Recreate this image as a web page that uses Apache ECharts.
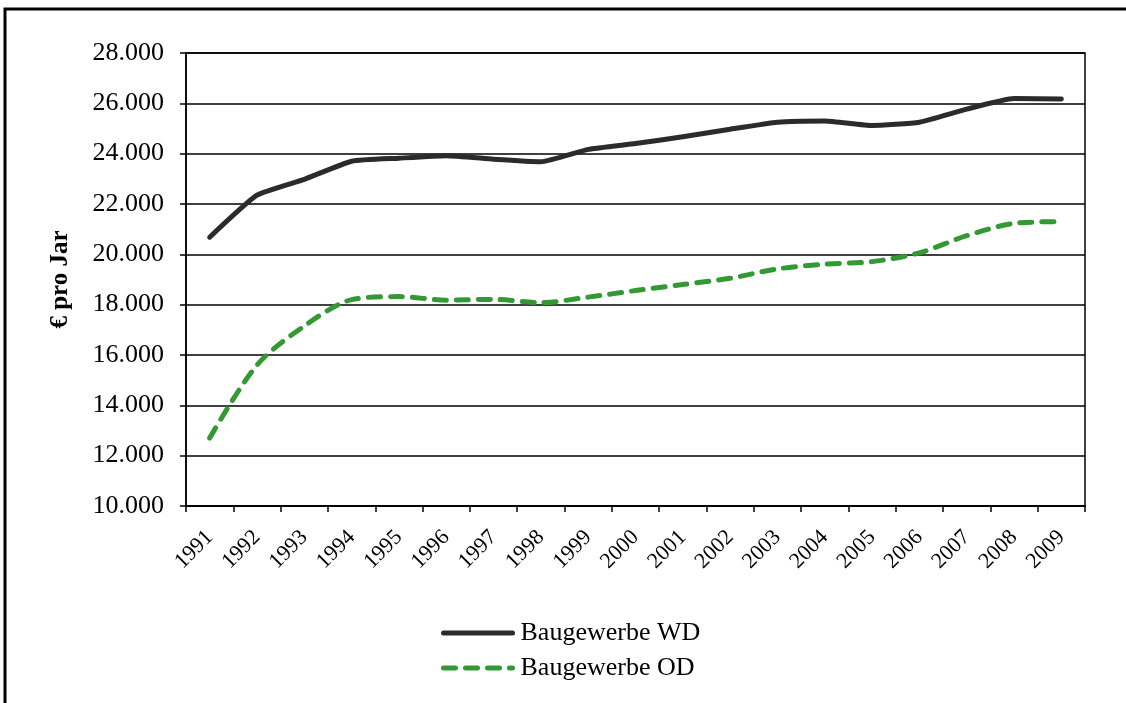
<!DOCTYPE html>
<html>
<head>
<meta charset="utf-8">
<script src="https://cdn.jsdelivr.net/npm/echarts@6/dist/echarts.min.js"></script>
<style>
  html, body { margin: 0; padding: 0; background: #fff; }
  #chart { width: 1126px; height: 703px; }
</style>
</head>
<body>
<div id="chart"></div>
<script>
// Jahre
var years = ['1991', '1992', '1993', '1994', '1995', '1996', '1997', '1998', '1999', '2000',
  '2001', '2002', '2003', '2004', '2005', '2006', '2007', '2008', '2009'];
// Baugewerbe West
var wdValues = [20680, 22350, 22980, 23700, 23820, 23920, 23780, 23680, 24170, 24400,
  24670, 24970, 25250, 25300, 25120, 25250, 25770, 26190, 26170];
// Baugewerbe Ost
var odValues = [12700, 15600, 17150, 18200, 18320, 18180, 18210, 18080, 18300, 18560,
  18800, 19050, 19420, 19610, 19710, 20060, 20740, 21230, 21300];

var serif = '"Liberation Serif", "DejaVu Serif", serif';

function fmt(v) {
  // Tausenderpunkt
  return String(v).replace(/\B(?=(\d{3})+(?!\d))/g, '.');
}

var chart = echarts.init(document.getElementById('chart'));

var option = {
  animation: false,
  backgroundColor: '#fff',
  textStyle: { fontFamily: serif, color: '#000' },
  graphic: [{
    type: 'rect',
    shape: { x: 5, y: 9, width: 1200, height: 800 },
    style: { fill: 'none', stroke: '#000', lineWidth: 3 }
  }],
  grid: {
    left: 186,
    right: 41,
    top: 53,
    bottom: 197,
    show: true,
    borderColor: '#000',
    borderWidth: 1.5
  },
  legend: {
    orient: 'vertical',
    left: 441,
    top: 620,
    padding: 0,
    itemWidth: 69,
    itemHeight: 14,
    itemGap: 9,
    itemStyle: { opacity: 0 },
    lineStyle: { width: 5, cap: 'round' },
    textStyle: { fontFamily: serif, fontSize: 26, color: '#000', padding: [0, 0, 0, 3] },
    data: ['Baugewerbe WD', 'Baugewerbe OD']
  },
  xAxis: {
    type: 'category',
    data: years,
    boundaryGap: true,
    axisLine: { lineStyle: { color: '#000', width: 1.5 } },
    axisTick: { show: true, length: 6, lineStyle: { color: '#000', width: 1.5 } },
    axisLabel: {
      rotate: 45,
      margin: 28,
      interval: 0,
      fontFamily: serif,
      fontSize: 22,
      color: '#000'
    },
    splitLine: { show: false }
  },
  yAxis: {
    type: 'value',
    min: 10000,
    max: 28000,
    interval: 2000,
    name: '€ pro Jar',
    nameLocation: 'middle',
    nameGap: 113,
    nameTextStyle: { fontFamily: serif, fontSize: 25, fontWeight: 'bold', color: '#000' },
    axisLine: { show: true, lineStyle: { color: '#000', width: 1.5 } },
    axisTick: { show: true, length: 6, lineStyle: { color: '#000', width: 1.5 } },
    axisLabel: {
      margin: 22,
      fontFamily: serif,
      fontSize: 26,
      color: '#000',
      formatter: fmt
    },
    splitLine: { lineStyle: { color: '#000', width: 1.5 } }
  },
  series: [{
    name: 'Baugewerbe WD',
    type: 'line',
    data: wdValues,
    smooth: 0.15,
    symbol: 'none',
    color: '#2b2b2b',
    lineStyle: { color: '#2b2b2b', width: 5, cap: 'round', join: 'round' }
  }, {
    name: 'Baugewerbe OD',
    type: 'line',
    data: odValues,
    smooth: 0.3,
    symbol: 'none',
    color: '#339933',
    lineStyle: { color: '#339933', width: 5, type: [12, 10], cap: 'round', join: 'round' }
  }]
};

chart.setOption(option);
</script>
</body>
</html>
